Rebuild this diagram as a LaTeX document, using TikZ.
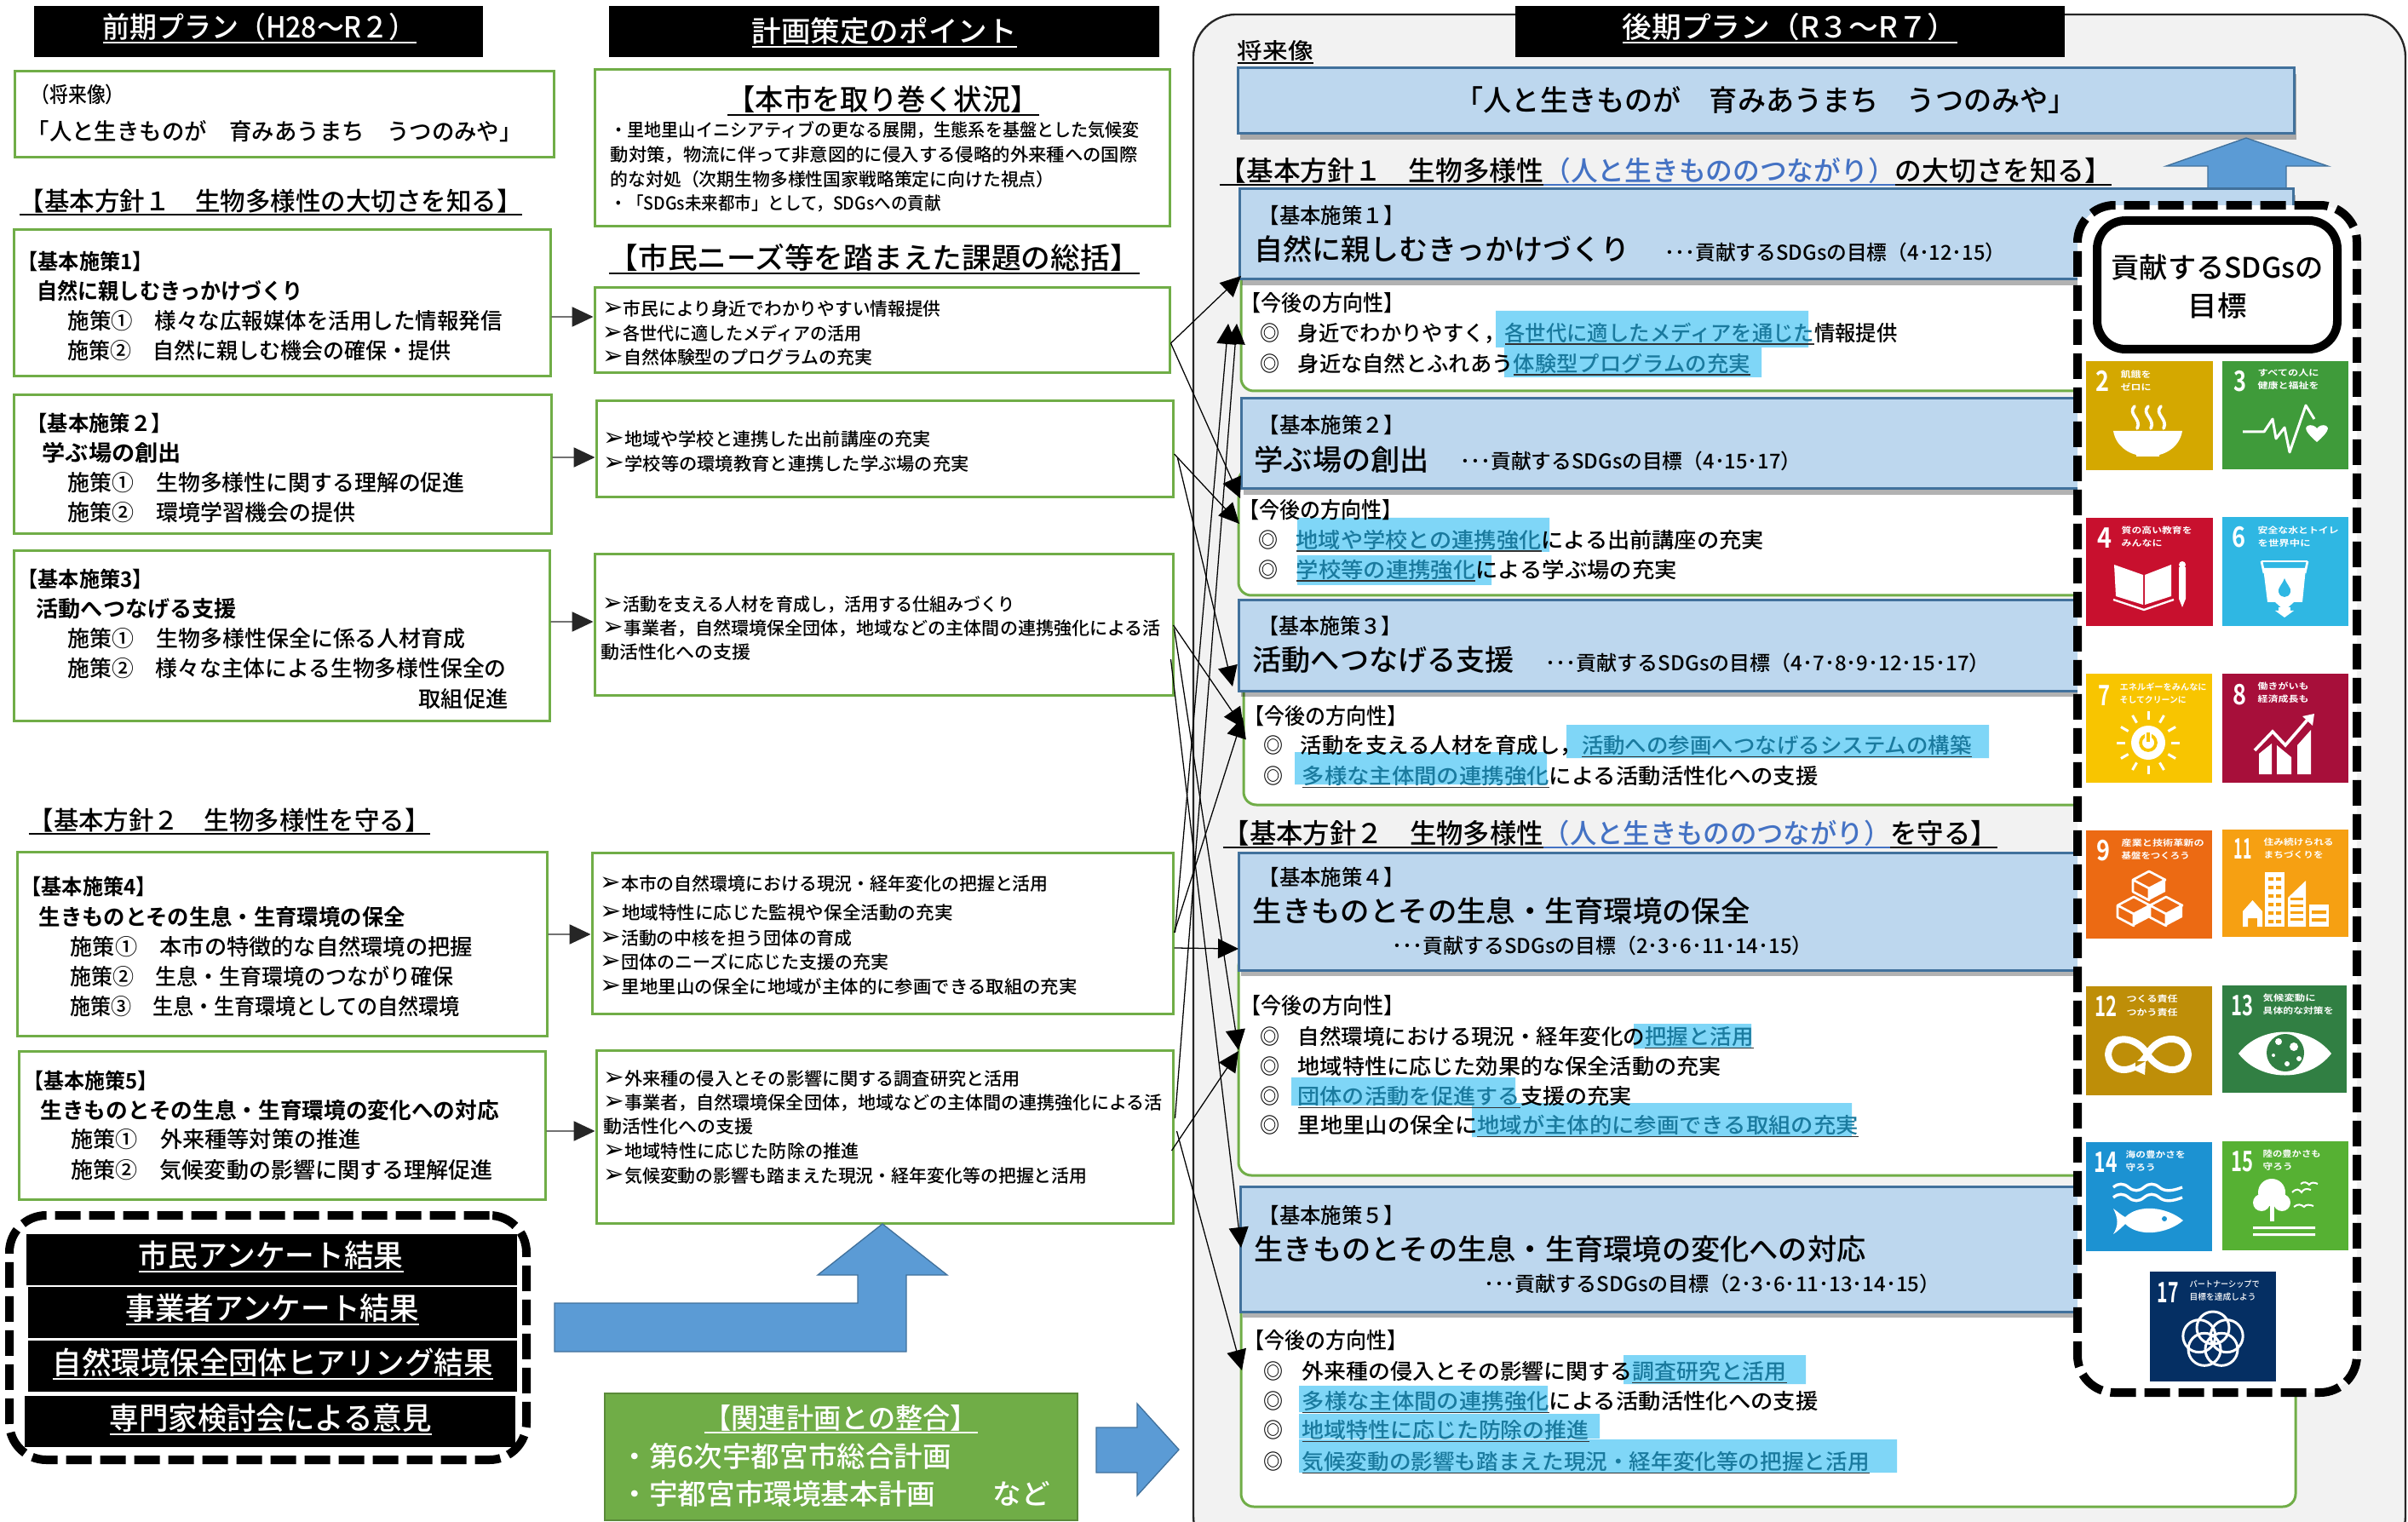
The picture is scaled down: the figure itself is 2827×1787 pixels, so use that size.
\documentclass[tikz,border=0pt]{standalone}
\usepackage{fontspec}
\usepackage{graphicx}
\setmainfont{Noto Sans CJK JP}[UprightFont={* Medium},BoldFont={* Bold}]
\newfontfamily\djv{DejaVu Sans}
\usetikzlibrary{arrows.meta,shadows}
\definecolor{bx}{HTML}{BDD7EE}
\definecolor{bd}{HTML}{41719C}
\definecolor{gb}{HTML}{70AD47}
\definecolor{ar}{HTML}{5B9BD5}
\definecolor{hlbg}{HTML}{7FD6F7}
\definecolor{hltx}{HTML}{1A7A9E}
\definecolor{bt}{HTML}{4472C4}
\definecolor{bgg}{HTML}{F2F2F2}
\definecolor{cA}{HTML}{D4A800}
\definecolor{cB}{HTML}{3F9B3A}
\definecolor{cC}{HTML}{C8102E}
\definecolor{cD}{HTML}{2FB7E3}
\definecolor{cE}{HTML}{F8C500}
\definecolor{cF}{HTML}{A70F3A}
\definecolor{cG}{HTML}{EC6A13}
\definecolor{cH}{HTML}{F6A012}
\definecolor{cI}{HTML}{BE8E08}
\definecolor{cJ}{HTML}{317F43}
\definecolor{cK}{HTML}{1C92D2}
\definecolor{cL}{HTML}{56B133}
\definecolor{cM}{HTML}{052F63}
\newcounter{tn}
\newsavebox\ubox
\newcommand\ul[1]{\sbox\ubox{#1}\rlap{\rule[-.18em]{\wd\ubox}{.07em}}\usebox\ubox}
\newcommand\hlt[1]{\sbox\ubox{\textcolor{hltx}{#1}}\rlap{\textcolor{black!80}{\rule[-.18em]{\wd\ubox}{.06em}}}\usebox\ubox}
\newcommand\arw{\scalebox{1.4}{\djv ➢}}
\newcommand\tx[6][black]{%
  \stepcounter{tn}%
  \pgfmathsetmacro\xa{#2}\pgfmathsetmacro\xw{(#3)-(#2)}%
  \pgfmathsetmacro\bl{#4+.38*#5}\pgfmathsetmacro\fs{#5*0.3}%
  \pgfmathsetlengthmacro\wdd{\xw*0.3pt}%
  \node[anchor=base west,inner sep=0,text=#1] (t\thetn) at (\xa,\bl)
    {\fontsize{\fs pt}{\fs pt}\selectfont\resizebox{\wdd}{\height}{#6}};}
\newcommand\bxn[6]{\node[#1,inner sep=0,minimum width={(#5-#3)*0.3pt},minimum height={(#6-#4)*0.3pt}] (#2) at ({(#3+#5)/2},{(#4+#6)/2}) {};}
\newcommand\tilebg[6]{\bxn{fill=#6}{#1}{#2}{#3}{#4}{#5}\def\ox{#2}\def\oy{#3}}
\newcommand\tnum[4]{\tx[white]{\ox+#1}{\ox+#2}{\oy+#3}{33}{\bfseries #4}}
% two label lines of a tile, in one node: x, width 1, width 2, y 1, y 2, line 1, line 2
\newcommand\tlabs[7]{%
  \stepcounter{tn}%
  \pgfmathsetmacro\xa{\ox+#1}\pgfmathsetmacro\bl{\oy+#4+.38*10}\pgfmathsetmacro\ls{(#5-(#4))*.3}%
  \pgfmathsetlengthmacro\wa{#2*.3pt}\pgfmathsetlengthmacro\wb{#3*.3pt}%
  \node[anchor=base west,inner sep=0,text=white] (t\thetn) at (\xa,\bl)
   {\fontsize{3pt}{3pt}\selectfont\bfseries\vtop{\baselineskip=\ls pt\lineskiplimit=-20pt\hbox{\resizebox{\wa}{\height}{#6}}\hbox{\resizebox{\wb}{\height}{#7}}}};}
\newcommand\isocube[3]{\draw[white,line width=.8pt,line join=round,fill=cG]
  ({#1-19},{#2})--({#1},{#2-10})--({#1+19},{#2})--({#1},{#2+10})--cycle
  ({#1-19},{#2})--({#1},{#2+10})--({#1},{#2+24})--({#1-19},{#2+14})--cycle;
  \fill[white]({#1},{#2+10})--({#1+19},{#2})--({#1+19},{#2+14})--({#1},{#2+24})--cycle;}
\newcommand\cn[7]{\coordinate (#1) at (#6,#7);
  \pgfmathsetlengthmacro\sx{(#4)*0.3pt}\pgfmathsetlengthmacro\sy{(#3-(#5))*0.3pt}
  \draw[rarrow] ([xshift=\sx,yshift=\sy]#2.east) -- (#1);}
\newcommand\bul{\bfseries ◎}
\tikzset{
  gbox/.style={draw=gb,line width=.9pt,fill=white},
  gr/.style={draw=gb,line width=.9pt,fill=white,rounded corners=4.5pt},
  blu/.style={draw=bd,line width=.9pt,fill=bx,drop shadow={shadow xshift=1pt,shadow yshift=-2pt,opacity=.3,fill=black}},
  blk/.style={fill=black},
  rarrow/.style={black,line width=.38pt,-{Triangle[length=7.2pt,width=6.9pt]}},
  larrow/.style={black!85,line width=.38pt,-{Triangle[length=7.5pt,width=7pt]}},
  bigar/.style={fill=ar,draw=bd,line width=.4pt},
  dashbox/.style={draw=black,line width=3pt,dash pattern=on 9pt off 3pt,rounded corners=13pt,fill=white},
}
\begin{document}
\begin{tikzpicture}[x=0.3pt,y=-0.3pt]
\useasboundingbox (0,0) rectangle (2827,1787);
\clip (0,0) rectangle (2827,1787);
% right panel
\draw[fill=bgg,draw=black!85,line width=.7pt,rounded corners=15pt] (1401,17) rectangle (2824,1830);
% title bars
\bxn{blk}{ttA}{40}{7}{567}{67}
\bxn{blk}{ttB}{715}{7}{1361}{67}
\bxn{blk}{ttC}{1779}{7}{2424}{67}
\tx[white]{120}{488}{32}{34}{\ul{前期プラン（H28～R２）}}
\tx[white]{882}{1193}{37}{34}{\ul{計画策定のポイント}}
\tx[white]{1904}{2297}{32}{34}{\ul{後期プラン（R３～R７）}}
% left column
\bxn{gbox}{vis}{17}{84}{650}{185}
\tx{36}{145}{111}{25}{（将来像）}
\tx{31}{612}{154}{27}{「人と生きものが　育みあうまち　うつのみや」}
\tx{22}{612}{236}{30}{\ul{【基本方針１　生物多様性の大切さを知る】}}
\bxn{gbox}{lA}{16}{270}{646}{442}
\tx{20}{179}{307}{25}{\bfseries【基本施策1】}
\tx{43}{355}{342}{26}{\bfseries 自然に親しむきっかけづくり}
\tx{79}{589}{377}{26}{施策①　様々な広報媒体を活用した情報発信}
\tx{79}{529}{412}{26}{施策②　自然に親しむ機会の確保・提供}
\bxn{gbox}{lB}{16}{464}{647}{627}
\tx{31}{201}{497}{25}{\bfseries【基本施策２】}
\tx{49}{212}{532}{26}{\bfseries 学ぶ場の創出}
\tx{79}{545}{567}{26}{施策①　生物多様性に関する理解の促進}
\tx{79}{417}{602}{26}{施策②　環境学習機会の提供}
\bxn{gbox}{lC}{16}{647}{645}{846}
\tx{20}{179}{680}{25}{\bfseries【基本施策3】}
\tx{42}{277}{715}{26}{\bfseries 活動へつなげる支援}
\tx{79}{546}{750}{26}{施策①　生物多様性保全に係る人材育成}
\tx{79}{594}{785}{26}{施策②　様々な主体による生物多様性保全の}
\tx{491}{596}{821}{26}{取組促進}
\tx{33}{504}{963}{30}{\ul{【基本方針２　生物多様性を守る】}}
\bxn{gbox}{lD}{20}{1000}{642}{1216}
\tx{24}{183}{1041}{25}{\bfseries【基本施策4】}
\tx{45}{475}{1077}{26}{\bfseries 生きものとその生息・生育環境の保全}
\tx{82}{554}{1112}{26}{施策①　本市の特徴的な自然環境の把握}
\tx{82}{532}{1147}{26}{施策②　生息・生育環境のつながり確保}
\tx{82}{539}{1182}{26}{施策③　生息・生育環境としての自然環境}
\bxn{gbox}{lE}{22}{1234}{640}{1408}
\tx{27}{185}{1269}{25}{\bfseries【基本施策5】}
\tx{47}{585}{1304}{26}{\bfseries 生きものとその生息・生育環境の変化への対応}
\tx{83}{423}{1338}{26}{施策①　外来種等対策の推進}
\tx{83}{578}{1374}{26}{施策②　気候変動の影響に関する理解促進}
% survey box
\node[dashbox,inner sep=0,minimum width=182.1pt,minimum height=86.1pt] (surv) at (314.5,1570.5) {};
\bxn{blk}{sA}{31}{1449}{607}{1509}
\bxn{blk}{sB}{33}{1511}{607}{1571}
\bxn{blk}{sC}{33}{1574}{607}{1634}
\bxn{blk}{sD}{29}{1639}{605}{1699}
\tx[white]{162}{473}{1474}{36}{\ul{市民アンケート結果}}
\tx[white]{147}{491}{1536}{36}{\ul{事業者アンケート結果}}
\tx[white]{61}{578}{1600}{36}{\ul{自然環境保全団体ヒアリング結果}}
\tx[white]{128}{506}{1665}{36}{\ul{専門家検討会による意見}}
% middle column
\bxn{gbox}{mZ}{698}{82}{1373}{266}
\tx{853}{1219}{117}{34}{\ul{【本市を取り巻く状況】}}
\tx{716}{1337}{153}{21}{・里地里山イニシアティブの更なる展開，生態系を基盤とした気候変}
\tx{716}{1335}{182}{21}{動対策，物流に伴って非意図的に侵入する侵略的外来種への国際}
\tx{716}{1237}{211}{21}{的な対処（次期生物多様性国家戦略策定に向けた視点）}
\tx{716}{1104}{239}{21}{・「SDGs未来都市」として，SDGsへの貢献}
\tx{714}{1337}{303}{34}{\ul{【市民ニーズ等を踏まえた課題の総括】}}
\bxn{gbox}{rA}{698}{338}{1373}{438}
\tx{707}{1104}{363}{21}{\arw 市民により身近でわかりやすい情報提供}
\tx{707}{1011}{392}{21}{\arw 各世代に適したメディアの活用}
\tx{707}{1024}{420}{21}{\arw 自然体験型のプログラムの充実}
\bxn{gbox}{rB}{700}{471}{1377}{584}
\tx{708}{1092}{516}{21}{\arw 地域や学校と連携した出前講座の充実}
\tx{708}{1137}{545}{21}{\arw 学校等の環境教育と連携した学ぶ場の充実}
\bxn{gbox}{rC}{698}{651}{1377}{816}
\tx{707}{1191}{710}{21}{\arw 活動を支える人材を育成し，活用する仕組みづくり}
\tx{707}{1362}{738}{21}{\arw 事業者，自然環境保全団体，地域などの主体間の連携強化による活}
\tx{705}{881}{766}{21}{動活性化への支援}
\bxn{gbox}{rD}{695}{1001}{1377}{1190}
\tx{704}{1230}{1038}{21}{\arw 本市の自然環境における現況・経年変化の把握と活用}
\tx{704}{1118}{1072}{21}{\arw 地域特性に応じた監視や保全活動の充実}
\tx{704}{1000}{1102}{21}{\arw 活動の中核を担う団体の育成}
\tx{704}{1043}{1130}{21}{\arw 団体のニーズに応じた支援の充実}
\tx{704}{1264}{1159}{21}{\arw 里地里山の保全に地域が主体的に参画できる取組の充実}
\bxn{gbox}{rE}{700}{1233}{1377}{1436}
\tx{708}{1197}{1267}{21}{\arw 外来種の侵入とその影響に関する調査研究と活用}
\tx{708}{1364}{1295}{21}{\arw 事業者，自然環境保全団体，地域などの主体間の連携強化による活}
\tx{708}{884}{1323}{21}{動活性化への支援}
\tx{708}{1008}{1352}{21}{\arw 地域特性に応じた防除の推進}
\tx{708}{1276}{1381}{21}{\arw 気候変動の影響も踏まえた現況・経年変化等の把握と活用}
% left to middle arrows
\draw[larrow] ([yshift=-4.8pt]lA.east) -- ([yshift=4.8pt]rA.west);
\draw[larrow] ([yshift=2.55pt]lB.east) -- ([yshift=-2.85pt]rB.west);
\draw[larrow] ([yshift=4.95pt]lC.east) -- ([yshift=1.05pt]rC.west);
\draw[larrow] ([yshift=3.3pt]lD.east) -- ([yshift=-.45pt]rD.west);
\draw[larrow] ([yshift=-2.1pt]lE.east) -- ([yshift=1.95pt]rE.west);
% big arrows, green box
\draw[bigar] (651,1530) -- (1007,1530) -- (1007,1497) -- (960,1497) -- (1036,1437) -- (1112,1497) -- (1064,1497) -- (1064,1587) -- (651,1587) -- cycle;
\bxn{fill=gb,draw=gb!80!black,line width=.6pt}{plan}{710}{1636}{1265}{1785}
\tx[white]{826}{1147}{1665}{33}{\ul{【関連計画との整合】}}
\tx[white]{728}{1116}{1710}{33}{・第6次宇都宮市総合計画}
\tx[white]{728}{1232}{1754}{33}{・宇都宮市環境基本計画　　など}
\draw[bigar] (1287,1676) -- (1335,1676) -- (1335,1648) -- (1384,1702) -- (1335,1756) -- (1335,1729) -- (1287,1729) -- cycle;
% right column
\tx{1452}{1541}{60}{26}{\ul{将来像}}
\bxn{blu}{visB}{1453}{80}{2693}{157}
\tx{1708}{2437}{118}{34}{「人と生きものが　育みあうまち　うつのみや」}
\draw[bigar] (2592,225) -- (2592,195) -- (2543,195) -- (2637,162) -- (2733,195) -- (2684,195) -- (2684,225) -- cycle;
\tx{1431}{2478}{200}{32}{\ul{【基本方針１　生物多様性}\textcolor{bt}{\ul{（人と生きもののつながり）}}\ul{の大切さを知る】}}
% green panels
\bxn{gr}{gA}{1457}{300}{2693}{459}
\bxn{gr}{gB}{1454}{550}{2693}{699}
\bxn{gr}{gC}{1460}{790}{2693}{945}
\bxn{gr}{gD}{1454}{1120}{2693}{1380}
\bxn{gr}{gE}{1457}{1520}{2695}{1769}
% blue panels
\bxn{blu}{bA}{1455}{222}{2692}{328}
\bxn{blu}{bB}{1457}{468}{2692}{574}
\bxn{blu}{bC}{1454}{705}{2692}{811}
\bxn{blu}{bD}{1454}{1001}{2692}{1139}
\bxn{blu}{bE}{1456}{1393}{2692}{1540}
% highlights
\fill[hlbg] (1756,365) rectangle (2123,408) (1766,408) rectangle (2068,443);
\fill[hlbg] (1523,608) rectangle (1819,648) (1523,652) rectangle (1751,687);
\fill[hlbg] (1839,851) rectangle (2335,890) (1520,883) rectangle (1816,921);
\fill[hlbg] (1918,1202) rectangle (2056,1231) (1516,1265) rectangle (1779,1298) (1728,1295) rectangle (2174,1335);
\fill[hlbg] (1906,1591) rectangle (2120,1625) (1525,1627) rectangle (1817,1658) (1525,1660) rectangle (1878,1689) (1525,1690) rectangle (2227,1729);
% panel 1
\tx{1477}{1648}{253}{25}{【基本施策１】}
\tx{1472}{1913}{293}{34}{自然に親しむきっかけづくり}
\tx{1954}{2354}{296}{24}{･･･貢献するSDGsの目標（4･12･15）}
\tx{1456}{1648}{356}{26}{【今後の方向性】}
\tx{1479}{1502}{391}{25}{\bul}
\tx{1523}{2227}{391}{25}{身近でわかりやすく，\hlt{各世代に適したメディアを通じた}情報提供}
\tx{1479}{1502}{427}{25}{\bul}
\tx{1523}{2054}{427}{25}{身近な自然とふれあう\hlt{体験型プログラムの充実}}
% panel 2
\tx{1477}{1648}{499}{25}{【基本施策２】}
\tx{1472}{1677}{540}{34}{学ぶ場の創出}
\tx{1714}{2114}{541}{24}{･･･貢献するSDGsの目標（4･15･17）}
\tx{1454}{1646}{599}{26}{【今後の方向性】}
\tx{1477}{1500}{634}{25}{\bul}
\tx{1521}{2070}{634}{25}{\hlt{地域や学校との連携強化}による出前講座の充実}
\tx{1477}{1500}{669}{25}{\bul}
\tx{1521}{1968}{669}{25}{\hlt{学校等の連携強化}による学ぶ場の充実}
% panel 3
\tx{1477}{1645}{735}{25}{【基本施策３】}
\tx{1470}{1777}{775}{34}{活動へつなげる支援}
\tx{1814}{2335}{778}{24}{･･･貢献するSDGsの目標（4･7･8･9･12･15･17）}
\tx{1460}{1652}{841}{26}{【今後の方向性】}
\tx{1483}{1506}{875}{25}{\bul}
\tx{1526}{2314}{875}{25}{活動を支える人材を育成し，\hlt{活動への参画へつなげるシステムの構築}}
\tx{1483}{1506}{911}{25}{\bul}
\tx{1528}{2134}{911}{25}{\hlt{多様な主体間の連携強化}による活動活性化への支援}
% heading 2
\tx{1435}{2344}{978}{32}{\ul{【基本方針２　生物多様性}\textcolor{bt}{\ul{（人と生きもののつながり）}}\ul{を守る】}}
% panel 4
\tx{1477}{1648}{1030}{25}{【基本施策４】}
\tx{1470}{2054}{1070}{34}{生きものとその生息・生育環境の保全}
\tx{1634}{2127}{1110}{24}{･･･貢献するSDGsの目標（2･3･6･11･14･15）}
\tx{1456}{1648}{1181}{26}{【今後の方向性】}
\tx{1479}{1502}{1217}{25}{\bul}
\tx{1523}{2058}{1217}{25}{自然環境における現況・経年変化の\hlt{把握と活用}}
\tx{1479}{1502}{1252}{25}{\bul}
\tx{1523}{2020}{1252}{25}{地域特性に応じた効果的な保全活動の充実}
\tx{1479}{1502}{1287}{25}{\bul}
\tx{1523}{1915}{1287}{25}{\hlt{団体の活動を促進する}支援の充実}
\tx{1479}{1502}{1321}{25}{\bul}
\tx{1523}{2181}{1321}{25}{里地里山の保全に\hlt{地域が主体的に参画できる取組の充実}}
% panel 5
\tx{1477}{1648}{1427}{25}{【基本施策５】}
\tx{1472}{2190}{1467}{34}{生きものとその生息・生育環境の変化への対応}
\tx{1742}{2277}{1507}{24}{･･･貢献するSDGsの目標（2･3･6･11･13･14･15）}
\tx{1460}{1652}{1574}{26}{【今後の方向性】}
\tx{1483}{1506}{1610}{25}{\bul}
\tx{1528}{2097}{1610}{25}{外来種の侵入とその影響に関する\hlt{調査研究と活用}}
\tx{1483}{1506}{1645}{25}{\bul}
\tx{1528}{2134}{1645}{25}{\hlt{多様な主体間の連携強化}による活動活性化への支援}
\tx{1483}{1506}{1679}{25}{\bul}
\tx{1528}{1865}{1679}{25}{\hlt{地域特性に応じた防除の推進}}
\tx{1483}{1506}{1716}{25}{\bul}
\tx{1528}{2194}{1716}{25}{\hlt{気候変動の影響も踏まえた現況・経年変化等の把握と活用}}
% SDGs box
\node[dashbox,inner sep=0,minimum width=98.4pt,minimum height=418.2pt] (sdg) at (2603,938) {};
\node[draw=black,line width=3pt,rounded corners=10pt,fill=white,inner sep=0,minimum width=84.6pt,minimum height=45.3pt] (sdgt) at (2603,334.5) {};
\tx{2478}{2727}{314}{33}{貢献するSDGsの}
\tx{2568}{2637}{359}{33}{目標}
% tile 2
\tilebg{tA}{2449}{424}{2598}{552}{cA}
\tnum{11}{27}{23}{2}\tlabs{40}{36}{36}{16}{31}{飢餓を}{ゼロに}
\begin{scope}[shift={(\ox,\oy)}]
\fill[white] (32,82)--(113,82) .. controls (110,100) and (95,108) .. (86,110) -- (86,112) -- (59,112) -- (59,110) .. controls (50,108) and (35,100) .. (32,82) -- cycle;
\draw[white,line width=1.1pt,line cap=round] (57,53) .. controls (48,62) and (66,68) .. (60,79) (73,53) .. controls (64,62) and (82,68) .. (76,79) (88,53) .. controls (79,62) and (97,68) .. (91,79);
\end{scope}
% tile 3
\tilebg{tB}{2609}{424}{2757}{551}{cB}
\tnum{13}{28}{23}{3}\tlabs{41}{72}{72}{14}{29}{すべての人に}{健康と福祉を}
\begin{scope}[shift={(\ox,\oy)}]
\draw[white,line width=.9pt,line join=round] (24,83)--(49,83)--(59,68)--(63,91)--(73,78)--(79,107)--(98,52)--(108,68);
\fill[white] (111,95) .. controls (98,84) and (96,78) .. (100,76) .. controls (104,74) and (109,76) .. (111,79) .. controls (113,76) and (118,74) .. (122,76) .. controls (126,78) and (124,84) .. (111,95) -- cycle;
\end{scope}
% tile 4
\tilebg{tC}{2449}{608}{2598}{735}{cC}
\tnum{13}{30}{23}{4}\tlabs{41}{83}{48}{15}{30}{質の高い教育を}{みんなに}
\begin{scope}[shift={(\ox,\oy)}]
\fill[white] (33,55)--(67,67)--(67,102)--(35,92)--cycle (69,67)--(100,55)--(100,92)--(69,102)--cycle;
\draw[white,line width=.7pt] (32,96)--(68,108)--(103,96);
\fill[white] (109,58)--(117,58)--(117,95)--(113,105)--(109,95)--cycle;
\fill[white] (113,55) circle (4);
\end{scope}
% tile 6
\tilebg{tD}{2609}{607}{2757}{735}{cD}
\tnum{11}{27}{23}{6}\tlabs{41}{95}{62}{16}{31}{安全な水とトイレ}{を世界中に}
\begin{scope}[shift={(\ox,\oy)}]
\draw[white,line width=.8pt] (46,52)--(100,52);
\fill[white] (48,60)--(98,60)--(94,100)--(84,100)--(73,110)--(62,100)--(53,100)--cycle;
\fill[white] (66,106) rectangle (80,110);
\fill[white] (62,110)--(84,110)--(73,118)--cycle;
\fill[cD] (73,72) .. controls (70,80) and (65,83) .. (66,88) .. controls (68,96) and (78,96) .. (80,88) .. controls (81,83) and (76,80) .. (73,72) -- cycle;
\draw[white,line width=.8pt] (46,52)--(49,66) (100,52)--(97,66);
\end{scope}
% tile 7
\tilebg{tE}{2449}{791}{2597}{919}{cE}
\tnum{14}{28}{25}{7}\tlabs{39}{102}{78}{16}{31}{エネルギーをみんなに}{そしてクリーンに}
\begin{scope}[shift={(\ox,\oy)}]
\foreach \a in {0,30,...,330} {\draw[white,line width=.9pt] ({73+27*cos(\a)},{81+27*sin(\a)}) -- ({73+37*cos(\a)},{81+37*sin(\a)});}
\fill[white] (73,81) circle (20);
\draw[cE,line width=1.1pt] (73,81) circle (9);
\draw[white,line width=2.2pt] (73,70)--(73,76);
\draw[cE,line width=1.1pt] (73,69)--(73,80);
\end{scope}
% tile 8
\tilebg{tF}{2609}{791}{2757}{919}{cF}
\tnum{12}{28}{24}{8}\tlabs{41}{60}{60}{15}{30}{働きがいも}{経済成長も}
\begin{scope}[shift={(\ox,\oy)}]
\fill[white] (43,94)--(58,82)--(58,118)--(43,118)--cycle (64,84)--(81,98)--(81,118)--(64,118)--cycle (88,84)--(104,66)--(104,118)--(88,118)--cycle;
\draw[white,line width=1.1pt] (38,90)--(59,68)--(74,84)--(100,54);
\fill[white] (94,50)--(108,47)--(106,61)--cycle;
\end{scope}
% tile 9
\tilebg{tG}{2449}{975}{2597}{1102}{cG}
\tnum{12}{28}{23}{9}\tlabs{41}{97}{80}{15}{30}{産業と技術革新の}{基盤をつくろう}
\begin{scope}[shift={(\ox,\oy)}]
\isocube{74}{58}{}
\isocube{56}{88}{}
\isocube{94}{88}{}
\end{scope}
% tile 11
\tilebg{tH}{2609}{974}{2757}{1100}{cH}
\tnum{13}{34}{22}{11}\tlabs{48}{82}{70}{15}{30}{住み続けられる}{まちづくりを}
\begin{scope}[shift={(\ox,\oy)}]
\fill[white] (24,96)--(35.5,83)--(47,96)--(47,114)--(41,114)--(41,104)--(30,104)--(30,114)--(24,114)--cycle;
\fill[white] (50,50) rectangle (73,114);
\foreach \yy in {56,66,76,86,96,106} {\fill[cH] (54,\yy) rectangle (60,{\yy+4}) (63,\yy) rectangle (69,{\yy+4});}
\fill[white] (77,114)--(77,80)--(98,60)--(98,114)--cycle;
\foreach \yy in {80,88,96,104} {\fill[cH] (80,\yy) rectangle (95,{\yy+3});}
\fill[white] (102,88) rectangle (125,114);
\fill[cH] (105,95) rectangle (122,99) (105,104) rectangle (122,108);
\end{scope}
% tile 12
\tilebg{tI}{2449}{1158}{2597}{1286}{cI}
\tnum{10}{36}{23}{12}\tlabs{47}{60}{60}{15}{31}{つくる責任}{つかう責任}
\begin{scope}[shift={(\ox,\oy)}]
\draw[white,line width=2.4pt] (72,80) .. controls (60,58) and (28,55) .. (26,80) .. controls (28,104) and (58,104) .. (72,80) .. controls (85,56) and (118,56) .. (120,80) .. controls (118,104) and (88,104) .. (72,80);
\fill[cI] (58,88) rectangle (72,100);
\fill[white] (70,88)--(69,104)--(54,97)--cycle;
\end{scope}
% tile 13
\tilebg{tJ}{2609}{1157}{2755}{1283}{cJ}
\tnum{10}{36}{23}{13}\tlabs{47}{62}{83}{15}{30}{気候変動に}{具体的な対策を}
\begin{scope}[shift={(\ox,\oy)}]
\fill[white] (19,80) .. controls (45,46) and (102,46) .. (128,80) .. controls (102,114) and (45,114) .. (19,80) -- cycle;
\fill[cJ] (74,79) circle (22);
\fill[white] (66,66) circle (4) (84,72) circle (5) (90,86) circle (3) (76,92) circle (3) (60,82) circle (2);
\end{scope}
% tile 14
\tilebg{tK}{2449}{1341}{2597}{1469}{cK}
\tnum{9}{36}{23}{14}\tlabs{46}{70}{35}{15}{30}{海の豊かさを}{守ろう}
\begin{scope}[shift={(\ox,\oy)}]
\draw[white,line width=1pt] (32,53) .. controls (38,48) and (44,48) .. (50,53) .. controls (56,58) and (62,58) .. (68,53) .. controls (74,48) and (80,48) .. (86,53) .. controls (92,58) and (100,58) .. (113,53)
 (32,65) .. controls (38,60) and (44,60) .. (50,65) .. controls (56,70) and (62,70) .. (68,65) .. controls (74,60) and (80,60) .. (86,65) .. controls (92,70) and (100,70) .. (113,65);
\fill[white] (32,78) .. controls (40,84) and (42,86) .. (46,88) .. controls (62,72) and (95,76) .. (114,92) .. controls (95,108) and (62,112) .. (46,96) .. controls (42,100) and (38,104) .. (32,108) .. controls (38,98) and (38,90) .. (32,78) -- cycle;
\fill[cK] (92,90) circle (3);
\end{scope}
% tile 15
\tilebg{tL}{2609}{1340}{2757}{1468}{cL}
\tnum{10}{36}{23}{15}\tlabs{47}{68}{35}{15}{30}{陸の豊かさも}{守ろう}
\begin{scope}[shift={(\ox,\oy)}]
\fill[white] (58,60) circle (16) (46,72) circle (10) (70,72) circle (10);
\fill[white] (56,70) rectangle (61,94);
\fill[white] (36,100) rectangle (109,103) (36,108) rectangle (109,111);
\draw[white,line width=.6pt] (82,60) .. controls (87,55) and (90,56) .. (93,60) .. controls (95,56) and (99,55) .. (104,57)
 (92,50) .. controls (96,47) and (99,48) .. (102,51) .. controls (104,48) and (108,48) .. (112,50)
 (84,77) .. controls (89,73) and (92,74) .. (96,77) .. controls (98,74) and (102,74) .. (107,76);
\end{scope}
% tile 17
\tilebg{tM}{2524}{1493}{2672}{1622}{cM}
\tnum{8}{33}{24}{17}\tlabs{46}{82}{78}{15}{30}{\mdseries パートナーシップで}{\mdseries 目標を達成しよう}
\begin{scope}[shift={(\ox,\oy)}]
\foreach \a in {-90,-18,54,126,198} {\draw[white,line width=.9pt] ({74+17*cos(\a)},{80+14*sin(\a)}) circle (19);}
\end{scope}
% middle to right connectors
\cn{pA}{rA}{388}{0}{403}{1457}{324}
\cn{pB}{rA}{388}{0}{403}{1456}{585}
\cn{pC}{rB}{527.5}{0}{533}{1455}{615}
\cn{pD}{rB}{527.5}{4}{538}{1447}{806}
\cn{pE}{rC}{733.5}{-1}{734}{1460}{855}
\cn{pF}{rC}{733.5}{0}{738}{1454}{1233}
\cn{pG}{rC}{733.5}{-4}{774}{1457}{1465}
\cn{pH}{rD}{1095.5}{1}{1095}{1442}{380}
\cn{pI}{rD}{1095.5}{0}{1095}{1459}{842}
\cn{pJ}{rD}{1095.5}{0}{1113}{1454}{1114}
\cn{pK}{rE}{1334.5}{1}{1313}{1452}{380}
\cn{pL}{rE}{1334.5}{-3}{1351}{1454}{1234}
\cn{pM}{rE}{1334.5}{3}{1328}{1458}{1609}
\end{tikzpicture}
\end{document}
